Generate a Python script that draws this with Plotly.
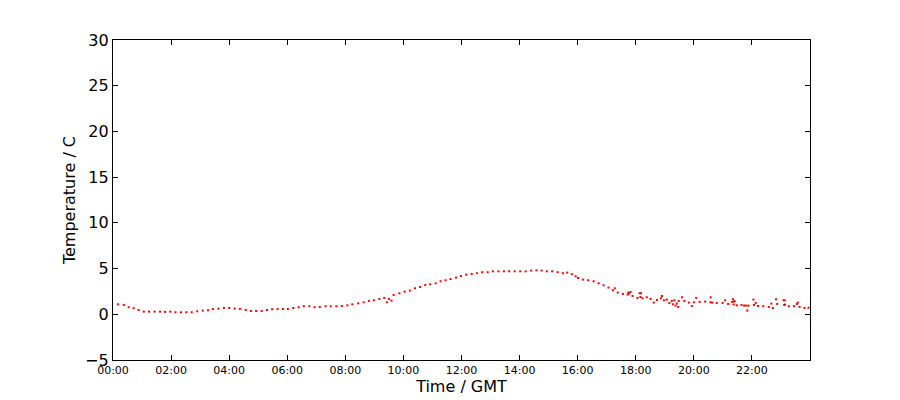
import plotly.graph_objects as go

# Time of day in hours (GMT) and temperature in C
hours = [
    0.17, 0.37, 0.54, 0.71, 0.88, 1.06, 1.24, 1.43, 1.62, 1.79, 1.97, 2.15, 2.34, 2.52, 2.71,
    2.90, 3.09, 3.27, 3.44, 3.63, 3.82, 4.00, 4.19, 4.37, 4.57, 4.75, 4.93, 5.12, 5.30, 5.48,
    5.67, 5.85, 6.02, 6.21, 6.39, 6.57, 6.76, 6.94, 7.12, 7.32, 7.50, 7.69, 7.88, 8.07, 8.24,
    8.44, 8.63, 8.81, 8.98, 9.17, 9.34, 9.43, 9.50, 9.59, 9.66, 9.86, 10.04, 10.22, 10.40, 10.57,
    10.75, 10.92, 11.11, 11.28, 11.45, 11.62, 11.81, 11.98, 12.16, 12.35, 12.53, 12.71, 12.90,
    13.08, 13.27, 13.46, 13.64, 13.83, 14.02, 14.21, 14.40, 14.58, 14.76, 14.94, 15.12, 15.31,
    15.49, 15.64, 15.80, 15.93, 16.01,
    16.18, 16.36, 16.55, 16.72, 16.89, 17.06, 17.21, 17.28, 17.38, 17.56, 17.72, 17.74, 17.77,
    17.82, 17.89, 18.06, 18.13, 18.18, 18.16, 18.23, 18.38, 18.51, 18.62, 18.73, 18.87, 18.90,
    18.97, 19.07, 19.16, 19.24, 19.28, 19.33, 19.37, 19.41, 19.46, 19.48, 19.59, 19.67, 19.83,
    19.93, 20.00, 20.08, 20.20, 20.39, 20.57, 20.58, 20.63, 20.79, 20.99, 21.08, 21.18, 21.32,
    21.35, 21.38, 21.41, 21.37, 21.48, 21.64, 21.73, 21.80, 21.84, 21.88, 22.05, 22.07, 22.13,
    22.21, 22.39, 22.58, 22.67, 22.72, 22.83, 22.87, 23.09, 23.11, 23.13, 23.14, 23.27, 23.45,
    23.55, 23.58, 23.64, 23.81, 23.95,
]
temps = [
    1.09, 1.02, 0.77, 0.66, 0.47, 0.29, 0.29, 0.29, 0.29, 0.26, 0.29, 0.22, 0.22, 0.22, 0.22,
    0.33, 0.40, 0.44, 0.58, 0.62, 0.69, 0.69, 0.62, 0.58, 0.47, 0.36, 0.36, 0.36, 0.47, 0.55,
    0.58, 0.58, 0.58, 0.69, 0.77, 0.88, 0.88, 0.77, 0.80, 0.88, 0.88, 0.88, 0.90, 0.98, 1.09,
    1.20, 1.31, 1.46, 1.53, 1.68, 1.79, 1.31, 1.68, 1.49, 2.12, 2.30, 2.48, 2.59, 2.84, 2.99,
    3.21, 3.28, 3.39, 3.61, 3.72, 3.86, 4.01, 4.19, 4.34, 4.41, 4.49, 4.60, 4.60,
    4.70, 4.70, 4.70, 4.70, 4.70, 4.70, 4.70, 4.78, 4.81, 4.78, 4.70, 4.70, 4.60,
    4.49, 4.56, 4.38, 4.16, 3.97,
    3.79, 3.72, 3.61, 3.39, 3.17, 2.92, 2.63, 2.84, 2.37, 2.23, 2.15, 2.37, 2.26,
    2.44, 2.00, 1.79, 2.30, 2.30, 1.89, 1.75, 1.86, 1.68, 1.28, 1.57, 1.75, 2.00,
    1.53, 1.61, 1.24, 1.46, 1.09, 1.53, 0.95, 1.17, 0.80, 1.46, 1.86, 1.46, 1.28,
    0.91, 1.31, 1.79, 1.35, 1.39, 1.31, 1.86, 1.28, 1.24, 1.24, 1.53, 1.13, 1.35,
    1.64, 1.42, 1.42, 1.06, 0.98, 1.02, 0.95, 0.95, 0.40, 0.95, 1.61, 1.02, 1.24,
    0.91, 0.88, 0.80, 1.17, 0.69, 1.64, 1.13, 1.53, 1.02, 1.53, 1.06, 0.88, 0.88,
    1.13, 1.28, 0.80, 0.69, 0.72,
]

x_tick_vals = [0, 2, 4, 6, 8, 10, 12, 14, 16, 18, 20, 22]
x_tick_text = ["00:00", "02:00", "04:00", "06:00", "08:00", "10:00",
               "12:00", "14:00", "16:00", "18:00", "20:00", "22:00"]
y_tick_vals = [-5, 0, 5, 10, 15, 20, 25, 30]
y_tick_text = ["\u22125", "0", "5", "10", "15", "20", "25", "30"]

FONT = "DejaVu Sans"

fig = go.Figure(
    go.Scatter(
        x=hours, y=temps, mode="markers",
        marker=dict(symbol="square", size=2, color="#ff0000", line=dict(width=0)),
        hoverinfo="x+y",
    )
)

# The page body adds an 8px offset, so margins are compensated for it.
fig.update_layout(
    width=900, height=400,
    margin=dict(l=105, r=98, t=32, b=48, autoexpand=False),
    paper_bgcolor="white", plot_bgcolor="white",
    showlegend=False,
    font=dict(family=FONT, color="black"),
)

fig.update_xaxes(
    automargin=False,
    range=[0, 24], tickmode="array", tickvals=x_tick_vals, ticktext=x_tick_text,
    ticks="inside", ticklen=5, tickwidth=1, tickcolor="black",
    showline=True, linecolor="black", linewidth=1.2, mirror="ticks",
    showgrid=False, zeroline=False,
    tickfont=dict(family=FONT, size=11, color="black"),
    title=dict(text="Time / GMT", font=dict(family=FONT, size=16, color="black"), standoff=4),
)
fig.update_yaxes(
    automargin=False,
    range=[-5, 30], tickmode="array", tickvals=y_tick_vals, ticktext=y_tick_text,
    ticks="inside", ticklen=5, tickwidth=1, tickcolor="black",
    showline=True, linecolor="black", linewidth=1.2, mirror="ticks",
    showgrid=False, zeroline=False,
    tickfont=dict(family=FONT, size=16, color="black"),
    title=dict(text="Temperature / C", font=dict(family=FONT, size=16, color="black"), standoff=5),
)

fig.write_html("out.html")
